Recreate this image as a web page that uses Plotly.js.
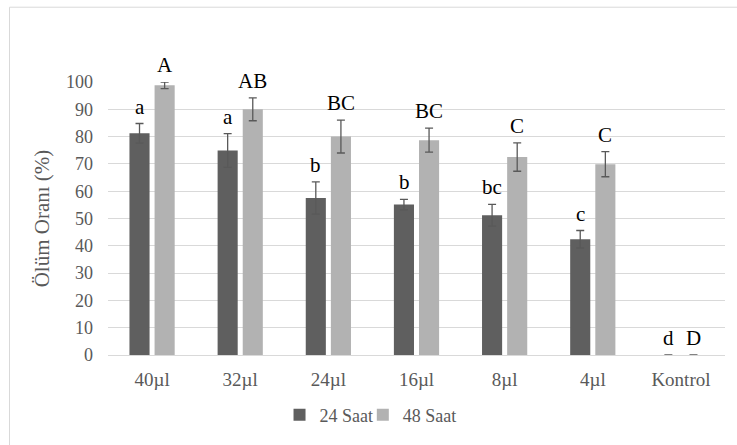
<!DOCTYPE html>
<html>
<head>
<meta charset="utf-8">
<script src="https://cdn.plot.ly/plotly-3.0.1.min.js"></script>
<style>
html,body{margin:0;padding:0;background:#fff;}
#chart{width:737px;height:445px;}
</style>
</head>
<body>
<div id="chart"></div>
<script>
const categories = ["40µl", "32µl", "24µl", "16µl", "8µl", "4µl", "Kontrol"];
const series24Name = "24 Saat";
const series48Name = "48 Saat";
const values24 = [81.2, 74.9, 57.5, 55.1, 51.2, 42.4, 0];
const errors24 = [3.6, 6.2, 5.9, 1.9, 4.0, 3.2, 0];
const values48 = [98.8, 90.0, 80.0, 78.7, 72.5, 69.9, 0];
const errors48 = [1.2, 4.2, 6.0, 4.4, 5.2, 4.6, 0];
const letters24 = ["a", "a", "b", "b", "bc", "c", "d"];
const letters48 = ["A", "AB", "BC", "BC", "C", "C", "D"];
const yTicks = [0, 10, 20, 30, 40, 50, 60, 70, 80, 90, 100];

const serif = "Liberation Serif";
const grey = "#595959";

const errStyle = {type: "data", visible: true, color: "#595959", thickness: 1.3, width: 4};

const traces = [
  {type: "bar", name: series24Name, x: categories, y: values24, legend: "legend",
   error_y: Object.assign({array: errors24}, errStyle),
   marker: {color: "#5f5f5f"}, hoverinfo: "skip"},
  {type: "bar", name: series48Name, x: categories, y: values48, legend: "legend2",
   error_y: Object.assign({array: errors48}, errStyle),
   marker: {color: "#b2b2b2"}, hoverinfo: "skip"}
];

const annotations = [];
categories.forEach((c, i) => {
  annotations.push({x: c, y: values24[i] + errors24[i], xref: "x", yref: "y",
    text: letters24[i], showarrow: false, yanchor: "bottom", xshift: -12.5, yshift: 3,
    font: {family: serif, size: 21, color: "#000"}});
  annotations.push({x: c, y: values48[i] + errors48[i], xref: "x", yref: "y",
    text: letters48[i], showarrow: false, yanchor: "bottom", xshift: 12.5, yshift: 3,
    font: {family: serif, size: 21, color: "#000"}});
});

const legendBase = {orientation: "h", xanchor: "left", y: -0.22, yanchor: "middle",
  font: {family: serif, size: 18, color: grey}, itemwidth: 30, bgcolor: "rgba(0,0,0,0)"};

const layout = {
  width: 737, height: 445,
  margin: {l: 108, r: 12, t: 82.3, b: 86, pad: 0},
  paper_bgcolor: "#fff", plot_bgcolor: "#fff",
  barmode: "group", bargap: 0.43, bargroupgap: 0.2,
  showlegend: true,
  legend: Object.assign({x: 0.278}, legendBase),
  legend2: Object.assign({x: 0.413}, legendBase),
  xaxis: {type: "category", tickfont: {family: serif, size: 19, color: grey},
    showgrid: false, zeroline: false, showline: true, linecolor: "#d9d9d9", linewidth: 1,
    ticks: "", ticklabelstandoff: 7, fixedrange: true},
  yaxis: {range: [0, 100], tickvals: yTicks, ticktext: yTicks.map(String),
    tickfont: {family: serif, size: 18, color: grey},
    showgrid: true, gridcolor: "#d9d9d9", gridwidth: 1, zeroline: false, showline: false,
    ticks: "", ticklabelstandoff: 14,
    title: {text: "Ölüm Oranı (%)", font: {family: serif, size: 21, color: grey}, standoff: 10},
    fixedrange: true},
  annotations: annotations,
  shapes: [
    {type: "line", xref: "paper", yref: "paper", x0: -98.5/617, x1: 1.2, y0: 1 + 75.8/276.7, y1: 1 + 75.8/276.7,
     line: {color: "#d9d9d9", width: 1}},
    {type: "line", xref: "paper", yref: "paper", x0: -98.5/617, x1: -98.5/617, y0: 1 + 75.8/276.7, y1: -0.5,
     line: {color: "#d9d9d9", width: 1}}
  ]
};

Plotly.newPlot("chart", traces, layout, {displayModeBar: false, staticPlot: true});
</script>
</body>
</html>
